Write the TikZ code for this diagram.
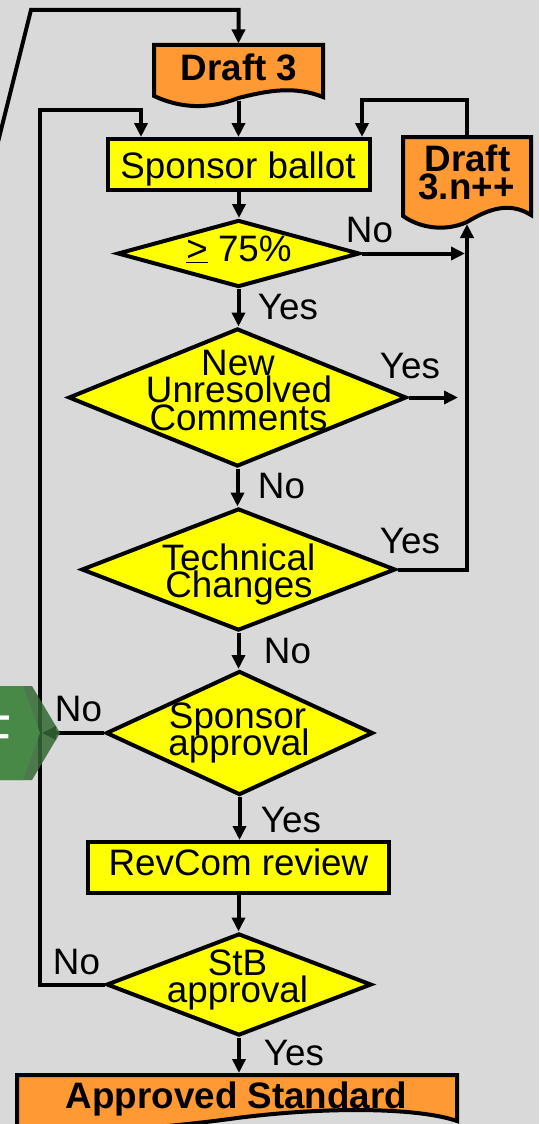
\documentclass[tikz,border=0pt]{standalone}
\usepackage{fontspec}
\setmainfont{Liberation Sans}
\usetikzlibrary{shapes.geometric,arrows.meta}
\definecolor{bg}{RGB}{217,217,217}
\definecolor{org}{RGB}{255,153,51}
\definecolor{yel}{RGB}{255,255,0}
\definecolor{gdark}{RGB}{52,105,52}
\definecolor{glight}{RGB}{72,140,72}
\begin{document}
\begin{tikzpicture}[x=1pt,y=-1pt,line width=4pt,
  ln/.style={draw=black,line width=4pt,line join=miter},
  arr/.style={ln,-{Triangle[length=14pt,width=13pt]}},
  pbox/.style={draw=black,line width=4pt,fill=yel,inner sep=0pt},
  dia/.style={diamond,draw=black,line width=4pt,fill=yel,inner sep=0pt},
  docshape/.style={draw=black,line width=4pt,fill=org,line join=miter},
  anchorbox/.style={inner sep=0pt},
  txt/.style={font=\fontsize{36.8pt}{42pt}\selectfont,inner sep=0pt,anchor=base,text height=21pt,text depth=4pt},
  btxt/.style={font=\fontsize{36.8pt}{42pt}\selectfont\bfseries,inner sep=0pt,anchor=base,text height=21pt,text depth=4pt},
  lbl/.style={font=\fontsize{36.8pt}{42pt}\selectfont,inner sep=0pt,text height=26.3pt,text depth=0pt}
]
\fill[bg] (0,0) rectangle (539,1124);
\useasboundingbox (0,0) rectangle (539,1124);
\clip (0,0) rectangle (539,1124);

% --- Draft 3 document
\path[docshape] (154,45) -- (323,45) -- (323,97)
  .. controls (295,86) and (270,90) .. (238.5,98)
  .. controls (207,110) and (180,108) .. (154,96) -- cycle;
\node[anchorbox,minimum width=169pt,minimum height=53pt] (d3) at (238.5,72) {};
\node[btxt] (d3t) at (239,81) {Draft 3};

% --- Draft 3.n++ document
\path[docshape] (403,137) -- (531,137) -- (531,215)
  .. controls (510,202) and (490,208) .. (467,222)
  .. controls (445,232) and (420,228) .. (403,216) -- cycle;
\node[anchorbox,minimum width=128pt,minimum height=84pt] (dn) at (467,180) {};
\node[btxt] (dnt1) at (467.5,171) {Draft};
\node[btxt] (dnt2) at (466.5,199) {3.n++};

% --- Approved Standard document
\path[docshape] (17,1075) -- (457,1075) -- (457,1121)
  .. controls (420,1108) and (330,1106) .. (237,1118)
  .. controls (150,1130) and (60,1135) .. (17,1126) -- cycle;
\node[anchorbox,minimum width=440pt,minimum height=40pt] (as) at (237,1095) {};
\node[btxt] (ast) at (236.5,1108) {Approved Standard};

% --- process boxes
\node[pbox,minimum width=262pt,minimum height=51pt] (sb) at (239,164.5) {};
\node[txt] (sbt) at (238,178) {Sponsor ballot};
\node[pbox,minimum width=301pt,minimum height=51pt] (rc) at (238.5,867.5) {};
\node[txt] (rct) at (238.5,875) {RevCom review};

% --- decisions
\node[dia,minimum width=242pt,minimum height=67pt] (q1) at (238.5,253.5) {};
\node[txt] (q1t) at (239,261) {\underline{>} 75\%};
\node[dia,minimum width=338pt,minimum height=138pt] (q2) at (237.5,397.5) {};
\node[txt] (q2a) at (238,375) {New};
\node[txt] (q2b) at (239,402.5) {Unresolved};
\node[txt] (q2c) at (238.5,430) {Comments};
\node[dia,minimum width=314pt,minimum height=122pt] (q3) at (238.5,569.5) {};
\node[txt] (q3a) at (238.5,570) {Technical};
\node[txt] (q3b) at (239,597) {Changes};
\node[dia,minimum width=267pt,minimum height=124pt] (q4) at (239.5,733) {};
\node[txt] (q4a) at (237.5,728) {Sponsor};
\node[txt] (q4b) at (239,755) {approval};
\node[dia,minimum width=265pt,minimum height=102pt] (q5) at (239,984.5) {};
\node[txt] (q5a) at (237.5,975) {StB};
\node[txt] (q5b) at (237.5,1002) {approval};

% --- helper coordinates
\coordinate (tl0) at (-5,154);
\coordinate (tl1) at (31,10);
\coordinate (lx) at (40,110);
\coordinate (la) at (141,110);
\coordinate (rx) at (467,100);
\coordinate (ra) at (362,100);
\coordinate (c8) at (458,397.5);
\coordinate (c12) at (42,733);

% --- connectors
\draw[arr] (tl0) -- (tl1) -- (d3.north |- tl1) -- (d3.north);
\draw[arr] (d3.south) -- (d3.south |- sb.north);
\draw[arr] (q5.west) -- (q5.west -| lx) -- (lx) -- (la) -- (la |- sb.north);
\draw[arr] (dn.north) -- (rx) -- (ra) -- (ra |- sb.north);
\draw[arr] (sb.south) -- (sb.south |- q1.north);
\draw[arr] (q1.east) -- ([xshift=-2pt]q1.east -| dn.south);
\draw[arr] (q1.south) -- (q1.south |- q2.north);
\draw[arr] (q2.east) -- (c8);
\draw[arr] (q2.south) -- (q2.south |- q3.north);
\draw[arr] (q3.east) -- (q3.east -| dn.south) -- (dn.south);
\draw[arr] (q3.south) -- (q3.south |- q4.north);
\draw[arr] (q4.west) -- (c12);
\draw[arr] (q4.south) -- (q4.south |- rc.north);
\draw[arr] (rc.south) -- (rc.south |- q5.north);
\draw[arr] (q5.south) -- (q5.south |- as.north);

% --- labels
\node[lbl] (l1) at (369.5,229.5) {No};
\node[lbl] (l2) at (288,306.5) {Yes};
\node[lbl] (l3) at (410,365) {Yes};
\node[lbl] (l4) at (281.5,485.5) {No};
\node[lbl] (l5) at (410,540) {Yes};
\node[lbl] (l6) at (287.5,650) {No};
\node[lbl] (l7) at (78.5,708.5) {No};
\node[lbl] (l8) at (291,819.5) {Yes};
\node[lbl] (l9) at (76.5,961.5) {No};
\node[lbl] (l10) at (294,1052) {Yes};

% --- partly hidden green hexagon at the left edge
\fill[gdark,opacity=0.85] (-10,686) -- (32,686) -- (60,733) -- (32,780) -- (-10,780) -- cycle;
\fill[glight,opacity=0.85] (-10,686) -- (23,686) -- (40,733) -- (23,780) -- (-10,780) -- cycle;
\node[font=\fontsize{56pt}{60pt}\selectfont,text=white,inner sep=0pt,anchor=base east] (hx) at (14,754) {F};
\end{tikzpicture}
\end{document}
